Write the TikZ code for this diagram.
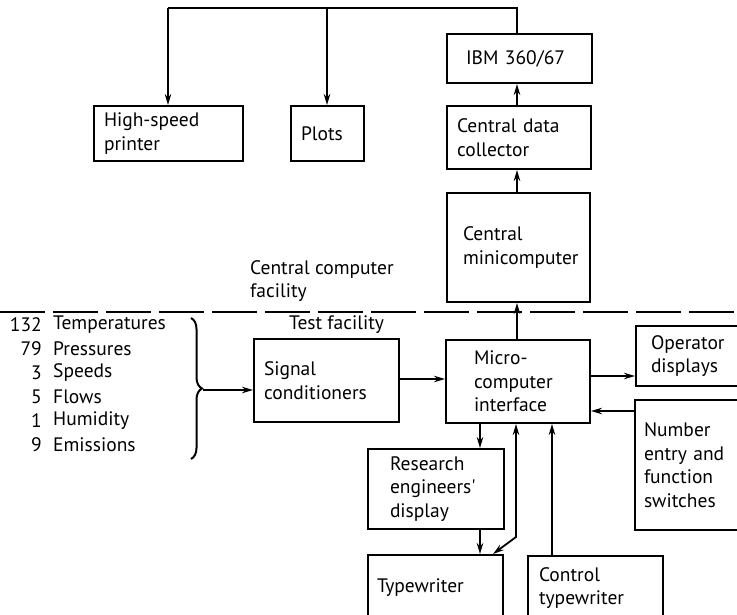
\documentclass[tikz,border=0pt]{standalone}
\usepackage{fontspec}
\setmainfont{PT Sans}
\newfontfamily\ptplain{PT Sans}[Ligatures=TeXOff]
\usetikzlibrary{arrows.meta,decorations.pathreplacing,calc}
\hyphenpenalty=10000
\exhyphenpenalty=10000

\begin{document}
\begin{tikzpicture}[x=1pt,y=-1pt,
  font=\fontsize{19.5}{23.5}\selectfont,
  box/.style 2 args={draw, line width=2pt, anchor=north west, align=left,
    inner xsep=10pt, inner ysep=0pt, text width=#1pt, minimum height=#2pt},
  conn/.style={line width=1.8pt},
  tip/.tip={Stealth[length=11pt,width=6.5pt]},
  arr/.style={conn, -tip},
  darr/.style={conn, tip-tip},
  lbl/.style={inner sep=0pt, align=left},
]
\useasboundingbox (0,0) rectangle (737,615);
\clip (0,0) rectangle (737,615);
\fill[white] (0,0) rectangle (737,615);

% central computer facility
\node[box={129}{55}] (hsp) at (93,105) {High-speed\\printer};
\node[box={53}{55}] (plots) at (290,105) {Plots};
\node[box={107}{49}, inner xsep=19pt] (ibm) at (446,33) {IBM 360/67};
\node[box={124}{63}] (cdc) at (446,105) {Central data\\collector};
\node[box={111}{109}, inner xsep=16pt] (cmc) at (446,192) {Central\\minicomputer};

\node[lbl, anchor=north west] (ccf) at (250,260) {Central computer\\facility};

% facility boundary
\coordinate (dl) at (0,312);
\coordinate (dr) at (737,312);
\draw[line width=2pt, dash pattern=on 45pt off 8pt] (dl) -- (dr);

\node[lbl, anchor=west] (tf) at (289,325) {Test facility};

% test facility
\node[box={125}{83}] (sig) at (253,338) {Signal\\conditioners};
\node[box={88}{83}, inner xsep=28pt] (mci) at (445,339) {Micro-\\computer\\interface};
\node[box={105}{60}, inner xsep=15pt] (opd) at (635,325) {Operator\\displays};
\node[box={111}{130}, inner xsep=9pt] (nef) at (634,399) {Number\\entry and\\function\\switches};
\node[box={92}{80}, inner xsep=22pt] (red) at (367,448) {Research\\engineers{\ptplain '}\\display};
\node[box={117}{65}, inner xsep=9pt] (tw) at (367,554) {Typewriter};
\node[box={113}{64}, inner xsep=11pt] (ctw) at (527,555) {Control\\typewriter};

% measured quantities
\foreach \n/\q/\yy [count=\i] in {132/Temperatures/325, 79/Pressures/349, 3/Speeds/373,
    5/Flows/397, 1/Humidity/421, 9/Emissions/445} {
  \node[lbl, anchor=east] (num\i) at (42,\yy) {\n};
  \node[lbl, anchor=west] (qty\i) at (53,\yy) {\q};
}
\coordinate (bt) at (191,318);
\coordinate (bb) at (191,459);
\draw[line width=2pt, decorate, decoration={brace, amplitude=11pt}] (bt) -- (bb);
\coordinate (btip) at (203,390);
\draw[arr] (btip) -- (sig.west |- btip);

% connectors
\coordinate (top) at (517,8);
\coordinate (tl) at (168,8);
\coordinate (tm) at (327,8);
\draw[conn] (ibm.north -| top) -- (top) -- (tl);
\draw[arr] (tl) -- (hsp.north -| tl);
\draw[arr] (tm) -- (plots.north -| tm);
\draw[arr] (cdc.north -| top) -- (ibm.south -| top);
\draw[arr] (cmc.north -| top) -- (cdc.south -| top);
\draw[arr] (mci.north -| top) -- (cmc.south -| top);

\coordinate (sigy) at (0,379);
\draw[arr] (sig.east |- sigy) -- (mci.west |- sigy);
\coordinate (opy) at (0,376);
\draw[arr] (mci.east |- opy) -- (opd.west |- opy);
\coordinate (nfy) at (0,411);
\draw[arr] (nef.west |- nfy) -- (mci.east |- nfy);

\coordinate (rx) at (480,0);
\draw[arr] (mci.south -| rx) -- (red.north -| rx);
\draw[arr] (red.south -| rx) -- (tw.north -| rx);
\coordinate (bend) at (516,537);
\coordinate (twin) at (493,554);
\draw[darr] (mci.south -| bend) -- (bend) -- (twin);
\coordinate (cx) at (552,0);
\draw[arr] (ctw.north -| cx) -- (mci.south -| cx);
\end{tikzpicture}
\end{document}
